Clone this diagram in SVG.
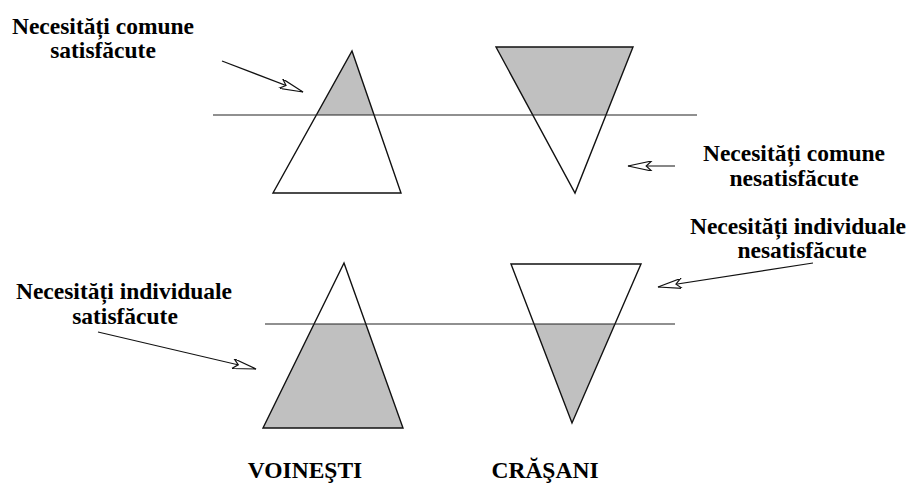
<svg xmlns="http://www.w3.org/2000/svg" width="915" height="484" viewBox="0 0 915 484">
<style>
.lbl{font-family:"Liberation Serif","Times New Roman",serif;font-weight:bold;font-size:23.5px;fill:#000;text-anchor:middle}
.tri{fill:none;stroke:#111;stroke-width:1.4;stroke-linejoin:miter}
.shade{fill:#c0c0c0;stroke:none}
.hline{stroke:#222;stroke-width:1.2}
.arr{stroke:#111;stroke-width:1.2;fill:none;marker-end:url(#head)}
</style>
<defs>
<marker id="head" viewBox="0 0 26 11" markerWidth="26" markerHeight="10" refX="26" refY="5.5" orient="auto" markerUnits="userSpaceOnUse">
<path d="M0,0 L26,5.5 L0,11 L6,5.5 Z" fill="#fff" stroke="#111" stroke-width="1.3"/>
</marker>
</defs>
<rect width="915" height="484" fill="#fff"/>

<g id="voinesti-top">
<polygon class="shade" points="352,51 316.4,115 374.1,115"/>
<polygon class="tri" points="352,51 401,193 273,193"/>
</g>
<g id="crasani-top">
<polygon class="shade" points="496,47 633,47 606,115 532.8,115"/>
<polygon class="tri" points="496,47 633,47 575,193"/>
</g>
<g id="voinesti-bottom">
<polygon class="shade" points="314.1,324 365.8,324 403,428 263,428"/>
<polygon class="tri" points="344,263 403,428 263,428"/>
</g>
<g id="crasani-bottom">
<polygon class="shade" points="534,324 615,324 572,423"/>
<polygon class="tri" points="511,264 641,264 572,423"/>
</g>

<g id="levels">
<line class="hline" x1="213" y1="115" x2="697" y2="115"/>
<line class="hline" x1="265" y1="324" x2="675" y2="324"/>
</g>

<g id="connectors">
<line class="arr" x1="222" y1="61" x2="303" y2="92"/>
<line class="arr" x1="675" y1="166" x2="628" y2="166"/>
<line class="arr" x1="813" y1="263" x2="658" y2="287"/>
<line class="arr" x1="98" y1="332" x2="256" y2="369"/>
</g>

<g id="label-comune-satisfacute">
<text class="lbl" x="103" y="34">Necesități comune</text>
<text class="lbl" x="103" y="58">satisfăcute</text>
</g>
<g id="label-comune-nesatisfacute">
<text class="lbl" x="794" y="161">Necesități comune</text>
<text class="lbl" x="794" y="186">nesatisfăcute</text>
</g>
<g id="label-individuale-nesatisfacute">
<text class="lbl" x="798" y="234">Necesități individuale</text>
<text class="lbl" x="802" y="258">nesatisfăcute</text>
</g>
<g id="label-individuale-satisfacute">
<text class="lbl" x="124" y="299">Necesități individuale</text>
<text class="lbl" x="125" y="324">satisfăcute</text>
</g>
<g id="label-voinesti">
<text class="lbl" x="305" y="478">VOINEŞTI</text>
</g>
<g id="label-crasani">
<text class="lbl" x="545" y="478">CRĂŞANI</text>
</g>
</svg>
